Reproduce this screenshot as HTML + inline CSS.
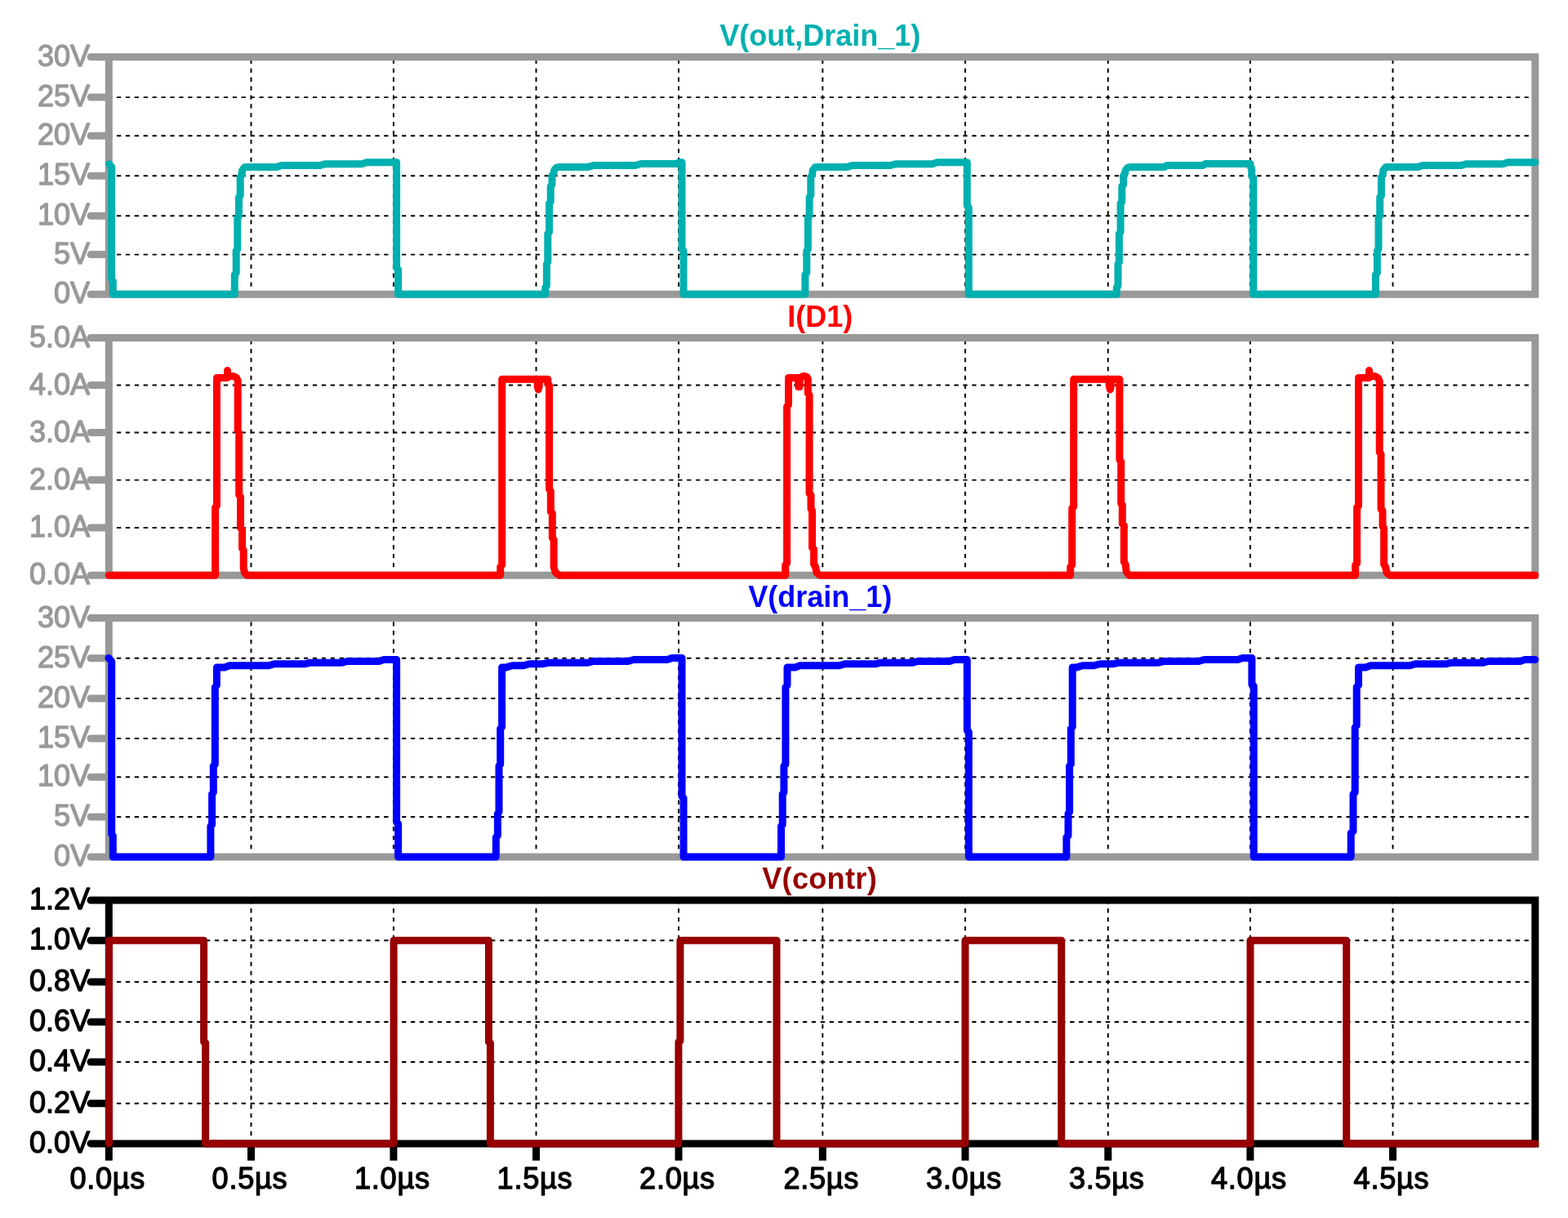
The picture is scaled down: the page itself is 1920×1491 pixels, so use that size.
<!DOCTYPE html>
<html lang="en">
<head>
<meta charset="utf-8">
<title>Waveforms</title>
<style>
html,body{margin:0;padding:0;background:#fff;}
body{width:1920px;height:1491px;overflow:hidden;}
svg{display:block;}
text{font-family:"Liberation Sans",sans-serif;font-size:36.1px;stroke-width:1.3px;stroke-linejoin:round;}
.t{font-weight:bold;text-anchor:middle;font-size:36px;}
.y{text-anchor:end;letter-spacing:0px;}
.x{text-anchor:start;}
.g{stroke:#000;stroke-width:1.95;stroke-dasharray:5.3 5.609;fill:none;}
.a{stroke-width:9.0;fill:none;stroke-linecap:round;stroke-linejoin:round;}
.w{stroke-width:9.0;fill:none;stroke-linecap:round;stroke-linejoin:round;}
</style>
</head>
<body>
<svg width="1920" height="1491" viewBox="0 0 1920 1491" role="img" aria-label="Waveform plot">
<rect width="1920" height="1491" fill="#fff"/>
<g>
<text class="t" x="1004.2" y="55.8" fill="#00b0b0">V(out,Drain_1)</text>
<line class="g" x1="142.9" y1="119.1" x2="1873" y2="119.1"/>
<line class="g" x1="142.9" y1="166.2" x2="1873" y2="166.2"/>
<line class="g" x1="142.9" y1="215.2" x2="1873" y2="215.2"/>
<line class="g" x1="142.9" y1="264.3" x2="1873" y2="264.3"/>
<line class="g" x1="142.9" y1="311.6" x2="1873" y2="311.6"/>
<line class="g" x1="307.5" y1="72.8" x2="307.5" y2="350.7"/>
<line class="g" x1="481.9" y1="72.8" x2="481.9" y2="350.7"/>
<line class="g" x1="656.5" y1="72.8" x2="656.5" y2="350.7"/>
<line class="g" x1="831" y1="72.8" x2="831" y2="350.7"/>
<line class="g" x1="1007.3" y1="72.8" x2="1007.3" y2="350.7"/>
<line class="g" x1="1181.9" y1="72.8" x2="1181.9" y2="350.7"/>
<line class="g" x1="1356.8" y1="72.8" x2="1356.8" y2="350.7"/>
<line class="g" x1="1530.9" y1="72.8" x2="1530.9" y2="350.7"/>
<line class="g" x1="1705.5" y1="72.8" x2="1705.5" y2="350.7"/>
<path class="a" style="stroke-linejoin:miter" stroke="#999999" d="M111,69.8 H1879.8 V360.2 H111 M133.3,69.8 V360.2"/>
<text class="y" x="110.1" y="81" fill="#999999" stroke="#999999">30V</text>
<line class="a" stroke="#999999" x1="111" y1="119.1" x2="133.3" y2="119.1"/>
<text class="y" x="110.1" y="130.2" fill="#999999" stroke="#999999">25V</text>
<line class="a" stroke="#999999" x1="111" y1="166.2" x2="133.3" y2="166.2"/>
<text class="y" x="110.1" y="177.3" fill="#999999" stroke="#999999">20V</text>
<line class="a" stroke="#999999" x1="111" y1="215.2" x2="133.3" y2="215.2"/>
<text class="y" x="110.1" y="226.3" fill="#999999" stroke="#999999">15V</text>
<line class="a" stroke="#999999" x1="111" y1="264.3" x2="133.3" y2="264.3"/>
<text class="y" x="110.1" y="275.4" fill="#999999" stroke="#999999">10V</text>
<line class="a" stroke="#999999" x1="111" y1="311.6" x2="133.3" y2="311.6"/>
<text class="y" x="110.1" y="322.8" fill="#999999" stroke="#999999">5V</text>
<text class="y" x="110.1" y="371.3" fill="#999999" stroke="#999999">0V</text>
<polyline class="w" stroke="#00b0b0" points="133.5,200.8 136.7,204.5 136.7,342 138.3,344 138.3,360.2 287.3,360.2 287.3,336 289.2,334 289.2,307 290.8,305 290.8,266.4 292.5,264.4 292.5,241.4 294.2,239.4 294.2,217 296,214 296.6,208.5 299.5,204.8 303,204.4 339,204.4 345,202.5 392,202.5 398,200.7 443,200.7 449,198.8 485.6,198.8 485.6,198.8 485.6,328 487.6,330 487.6,360.2 667.7,360.2 667.7,352 669.4,350 669.4,323 670.8,321 670.8,286 672.5,284 672.5,249 674.2,247 674.2,228 676,226 676,215 678,212 678.8,208 681.5,205.2 685,204.4 720,204.4 727,202.5 778,202.5 785,200.5 828,200.5 832,198.8 835,198.8 835,198.8 835,305 837,307 837,360.2 985.9,360.2 985.9,336 987.8,334 987.8,307 989.4,305 989.4,266.4 991.1,264.4 991.1,241.4 992.8,239.4 992.8,217 994.6,214 995.2,208.5 998.1,204.8 1001.6,204.4 1037.6,204.4 1043.6,202.5 1090.6,202.5 1096.6,200.7 1141.6,200.7 1147.6,198.8 1184.2,198.8 1184.2,198.8 1184.2,252 1186.2,254 1186.2,360.2 1367.3,360.2 1367.3,352 1369,350 1369,323 1370.4,321 1370.4,286 1372.1,284 1372.1,249 1373.8,247 1373.8,228 1375.6,226 1375.6,215 1377.6,212 1378.4,208 1381.1,205.2 1384.6,204.4 1425.7,204.5 1428.7,202.5 1473,202.5 1476,200.5 1531,200.5 1531,203.5 1532.7,206.5 1532.7,215.5 1534.8,218 1534.8,360.2 1684.5,360.2 1684.5,336 1686.4,334 1686.4,307 1688,305 1688,266.4 1689.7,264.4 1689.7,241.4 1691.4,239.4 1691.4,217 1693.2,214 1693.8,208.5 1696.7,204.8 1700.2,204.4 1736.2,204.4 1742.2,202.5 1789.2,202.5 1795.2,200.7 1840.2,200.7 1846.2,198.8 1879.8,198.8"/>
</g>
<g>
<text class="t" x="1004.2" y="400" fill="#ff0000">I(D1)</text>
<line class="g" x1="142.9" y1="471.5" x2="1873" y2="471.5"/>
<line class="g" x1="142.9" y1="529.5" x2="1873" y2="529.5"/>
<line class="g" x1="142.9" y1="587.6" x2="1873" y2="587.6"/>
<line class="g" x1="142.9" y1="645.9" x2="1873" y2="645.9"/>
<line class="g" x1="307.5" y1="416.2" x2="307.5" y2="694.7"/>
<line class="g" x1="481.9" y1="416.2" x2="481.9" y2="694.7"/>
<line class="g" x1="656.5" y1="416.2" x2="656.5" y2="694.7"/>
<line class="g" x1="831" y1="416.2" x2="831" y2="694.7"/>
<line class="g" x1="1007.3" y1="416.2" x2="1007.3" y2="694.7"/>
<line class="g" x1="1181.9" y1="416.2" x2="1181.9" y2="694.7"/>
<line class="g" x1="1356.8" y1="416.2" x2="1356.8" y2="694.7"/>
<line class="g" x1="1530.9" y1="416.2" x2="1530.9" y2="694.7"/>
<line class="g" x1="1705.5" y1="416.2" x2="1705.5" y2="694.7"/>
<path class="a" style="stroke-linejoin:miter" stroke="#999999" d="M111,413.5 H1879.8 V704.2 H111 M133.3,413.5 V704.2"/>
<text class="y" x="110.1" y="424.6" fill="#999999" stroke="#999999">5.0A</text>
<line class="a" stroke="#999999" x1="111" y1="471.5" x2="133.3" y2="471.5"/>
<text class="y" x="110.1" y="482.6" fill="#999999" stroke="#999999">4.0A</text>
<line class="a" stroke="#999999" x1="111" y1="529.5" x2="133.3" y2="529.5"/>
<text class="y" x="110.1" y="540.6" fill="#999999" stroke="#999999">3.0A</text>
<line class="a" stroke="#999999" x1="111" y1="587.6" x2="133.3" y2="587.6"/>
<text class="y" x="110.1" y="598.8" fill="#999999" stroke="#999999">2.0A</text>
<line class="a" stroke="#999999" x1="111" y1="645.9" x2="133.3" y2="645.9"/>
<text class="y" x="110.1" y="657" fill="#999999" stroke="#999999">1.0A</text>
<text class="y" x="110.1" y="715.4" fill="#999999" stroke="#999999">0.0A</text>
<polyline class="w" stroke="#ff0000" points="133.3,704.2 263.6,704.2 263.6,621 265.5,619 265.5,462.4 278.5,462.4 278.5,453.4 278.5,460.5 286,460.5 289.5,462.4 291.2,466 291.2,527.6 292.7,529.6 292.7,606 294.5,608 294.5,646.3 296.6,648.3 296.6,671.5 298.2,673.5 298.2,696 299.8,701.5 302.6,704.2 612.7,704.2 612.7,694 614.7,691.5 614.7,464.3 658.2,464.3 658.2,473 659.2,477 660.2,473 660.2,464.3 670.8,464.3 670.8,469.6 672.5,471.6 672.5,599 674.3,601 674.3,626.2 676.3,628.2 676.3,658.4 678.1,660.4 678.1,694 680,700.5 684.7,704.2 961.7,704.2 961.7,691.6 963.6,689.6 963.6,497.5 965.5,495.5 965.5,462.4 977.3,462.4 977.8,473.6 978.8,473.6 979.3,462.4 983.7,460.5 985.5,460.5 988.2,461.5 989.3,464 989.3,481.4 991.1,483.4 991,604 993,606 993,623 994.5,625 994.5,670.5 996.6,672.5 996.6,690.6 998.6,694 1000,701 1003.6,704.2 1310.7,704.2 1310.7,694 1312.7,691.5 1312.7,622.2 1314.7,620.2 1314.7,464.3 1358.4,464.3 1358.4,473 1359.4,477 1360.4,473 1360.4,464.3 1370.9,464.3 1370.9,562.9 1372.7,564.9 1372.7,616.2 1374.3,618.2 1374.3,641.3 1376.3,643.3 1376.3,687.6 1378,690.5 1379.3,700 1382.7,704.2 1659.6,704.2 1659.6,691.6 1661.6,689.6 1661.6,621.2 1663.5,619.2 1663.5,462.4 1676.5,462.4 1676.5,453.4 1676.5,460.5 1683.5,460.5 1687.3,462.4 1689.2,466.5 1689.2,553.8 1691,555.8 1691,623.2 1693,625.2 1693,644.4 1694.6,646.4 1694.6,690.6 1696.6,694 1698,701 1701.6,704.2 1879.8,704.2"/>
</g>
<g>
<text class="t" x="1004.2" y="743" fill="#0000ff">V(drain_1)</text>
<line class="g" x1="142.9" y1="805.8" x2="1873" y2="805.8"/>
<line class="g" x1="142.9" y1="855" x2="1873" y2="855"/>
<line class="g" x1="142.9" y1="904" x2="1873" y2="904"/>
<line class="g" x1="142.9" y1="951.3" x2="1873" y2="951.3"/>
<line class="g" x1="142.9" y1="1000" x2="1873" y2="1000"/>
<line class="g" x1="307.5" y1="761.2" x2="307.5" y2="1039.5"/>
<line class="g" x1="481.9" y1="761.2" x2="481.9" y2="1039.5"/>
<line class="g" x1="656.5" y1="761.2" x2="656.5" y2="1039.5"/>
<line class="g" x1="831" y1="761.2" x2="831" y2="1039.5"/>
<line class="g" x1="1007.3" y1="761.2" x2="1007.3" y2="1039.5"/>
<line class="g" x1="1181.9" y1="761.2" x2="1181.9" y2="1039.5"/>
<line class="g" x1="1356.8" y1="761.2" x2="1356.8" y2="1039.5"/>
<line class="g" x1="1530.9" y1="761.2" x2="1530.9" y2="1039.5"/>
<line class="g" x1="1705.5" y1="761.2" x2="1705.5" y2="1039.5"/>
<path class="a" style="stroke-linejoin:miter" stroke="#999999" d="M111,756.6 H1879.8 V1049 H111 M133.3,756.6 V1049"/>
<text class="y" x="110.1" y="767.8" fill="#999999" stroke="#999999">30V</text>
<line class="a" stroke="#999999" x1="111" y1="805.8" x2="133.3" y2="805.8"/>
<text class="y" x="110.1" y="816.9" fill="#999999" stroke="#999999">25V</text>
<line class="a" stroke="#999999" x1="111" y1="855" x2="133.3" y2="855"/>
<text class="y" x="110.1" y="866.1" fill="#999999" stroke="#999999">20V</text>
<line class="a" stroke="#999999" x1="111" y1="904" x2="133.3" y2="904"/>
<text class="y" x="110.1" y="915.1" fill="#999999" stroke="#999999">15V</text>
<line class="a" stroke="#999999" x1="111" y1="951.3" x2="133.3" y2="951.3"/>
<text class="y" x="110.1" y="962.4" fill="#999999" stroke="#999999">10V</text>
<line class="a" stroke="#999999" x1="111" y1="1000" x2="133.3" y2="1000"/>
<text class="y" x="110.1" y="1011.1" fill="#999999" stroke="#999999">5V</text>
<text class="y" x="110.1" y="1060.2" fill="#999999" stroke="#999999">0V</text>
<polyline class="w" stroke="#0000ff" points="132.9,805.4 136.7,809.5 136.7,1021 138.3,1023 138.3,1049 257.9,1049 257.9,1011.5 259.6,1009.5 259.6,972 261.3,970 261.3,937.7 263.3,935.7 263.3,841 265.4,838.8 265.4,817 275,816.9 281,814.8 329,814.8 336,812.7 374,812.7 380,811.2 419,811.2 425,809.5 464,809.5 470,807.5 485.6,807.5 485.6,807.5 485.6,1006.5 487.6,1008.5 487.6,1049 607.3,1049 607.3,1025 609.4,1023 609.4,996 611,994 611,937.7 612.7,935.7 612.7,892 614.6,889.8 614.6,817 620,816.9 627,814.8 641,814.8 648,812.7 665,812.7 672,811.2 720,811.2 727,809.5 769,809.5 776,807.5 817,807.5 823,805.4 835,805.4 835,805.4 835,975 837,977 837,1049 956.5,1049 956.5,1011.5 958.2,1009.5 958.2,972 959.9,970 959.9,937.7 961.9,935.7 961.9,841 964,838.8 964,817 973.6,816.9 979.6,814.8 1027.6,814.8 1034.6,812.7 1072.6,812.7 1078.6,811.2 1117.6,811.2 1123.6,809.5 1162.6,809.5 1168.6,807.5 1184.2,807.5 1184.2,807.5 1184.2,894 1186.2,896 1186.2,1049 1305.9,1049 1305.9,1025 1308,1023 1308,996 1309.6,994 1309.6,937.7 1311.3,935.7 1311.3,892 1313.2,889.8 1313.2,817 1318.6,816.9 1325.6,814.8 1339.6,814.8 1346.6,812.7 1363.6,812.7 1370.6,811.2 1418.6,811.2 1425.6,809.5 1467.6,809.5 1474.6,807.5 1515.6,807.5 1521.6,805.4 1532.9,805.4 1532.9,805.4 1532.9,838 1535.2,840 1535.2,1049 1654.2,1049 1654.2,1019.7 1657,1017.7 1657,972 1659.2,970 1659.2,890.4 1661.2,888.4 1661.2,841 1663.5,838.8 1663.5,817 1672.2,816.9 1678.2,814.8 1726.2,814.8 1733.2,812.7 1771.2,812.7 1777.2,811.2 1816.2,811.2 1822.2,809.5 1861.2,809.5 1867.2,807.5 1879.8,807.5"/>
</g>
<g>
<text class="t" x="1003.6" y="1088" fill="#960000" style="letter-spacing:0.36px">V(contr)</text>
<line class="g" x1="142.9" y1="1151.2" x2="1873" y2="1151.2"/>
<line class="g" x1="142.9" y1="1201.9" x2="1873" y2="1201.9"/>
<line class="g" x1="142.9" y1="1251" x2="1873" y2="1251"/>
<line class="g" x1="142.9" y1="1300" x2="1873" y2="1300"/>
<line class="g" x1="142.9" y1="1350.8" x2="1873" y2="1350.8"/>
<line class="g" x1="307.5" y1="1101.2" x2="307.5" y2="1390.4"/>
<line class="g" x1="481.9" y1="1101.2" x2="481.9" y2="1390.4"/>
<line class="g" x1="656.5" y1="1101.2" x2="656.5" y2="1390.4"/>
<line class="g" x1="831" y1="1101.2" x2="831" y2="1390.4"/>
<line class="g" x1="1007.3" y1="1101.2" x2="1007.3" y2="1390.4"/>
<line class="g" x1="1181.9" y1="1101.2" x2="1181.9" y2="1390.4"/>
<line class="g" x1="1356.8" y1="1101.2" x2="1356.8" y2="1390.4"/>
<line class="g" x1="1530.9" y1="1101.2" x2="1530.9" y2="1390.4"/>
<line class="g" x1="1705.5" y1="1101.2" x2="1705.5" y2="1390.4"/>
<path class="a" style="stroke-linejoin:miter" stroke="#000000" d="M111,1102 H1879.8 V1399.9 H111 M133.3,1102 V1399.9"/>
<text class="y" x="110.1" y="1113.2" fill="#000000" stroke="#000000">1.2V</text>
<line class="a" stroke="#000000" x1="111" y1="1151.2" x2="133.3" y2="1151.2"/>
<text class="y" x="110.1" y="1162.4" fill="#000000" stroke="#000000">1.0V</text>
<line class="a" stroke="#000000" x1="111" y1="1201.9" x2="133.3" y2="1201.9"/>
<text class="y" x="110.1" y="1213.1" fill="#000000" stroke="#000000">0.8V</text>
<line class="a" stroke="#000000" x1="111" y1="1251" x2="133.3" y2="1251"/>
<text class="y" x="110.1" y="1262.2" fill="#000000" stroke="#000000">0.6V</text>
<line class="a" stroke="#000000" x1="111" y1="1300" x2="133.3" y2="1300"/>
<text class="y" x="110.1" y="1311.2" fill="#000000" stroke="#000000">0.4V</text>
<line class="a" stroke="#000000" x1="111" y1="1350.8" x2="133.3" y2="1350.8"/>
<text class="y" x="110.1" y="1362" fill="#000000" stroke="#000000">0.2V</text>
<text class="y" x="110.1" y="1411.1" fill="#000000" stroke="#000000">0.0V</text>
<line stroke="#000" stroke-width="9.0" x1="133.3" y1="1399.9" x2="133.3" y2="1420.7"/>
<text class="x" x="85.4" y="1454.9" textLength="92" fill="#000" stroke="#000">0.0µs</text>
<line stroke="#000" stroke-width="9.0" x1="307.5" y1="1399.9" x2="307.5" y2="1420.7"/>
<text class="x" x="259.6" y="1454.9" textLength="92" fill="#000" stroke="#000">0.5µs</text>
<line stroke="#000" stroke-width="9.0" x1="481.9" y1="1399.9" x2="481.9" y2="1420.7"/>
<text class="x" x="434" y="1454.9" textLength="92" fill="#000" stroke="#000">1.0µs</text>
<line stroke="#000" stroke-width="9.0" x1="656.5" y1="1399.9" x2="656.5" y2="1420.7"/>
<text class="x" x="608.6" y="1454.9" textLength="92" fill="#000" stroke="#000">1.5µs</text>
<line stroke="#000" stroke-width="9.0" x1="831" y1="1399.9" x2="831" y2="1420.7"/>
<text class="x" x="783.1" y="1454.9" textLength="92" fill="#000" stroke="#000">2.0µs</text>
<line stroke="#000" stroke-width="9.0" x1="1007.3" y1="1399.9" x2="1007.3" y2="1420.7"/>
<text class="x" x="959.4" y="1454.9" textLength="92" fill="#000" stroke="#000">2.5µs</text>
<line stroke="#000" stroke-width="9.0" x1="1181.9" y1="1399.9" x2="1181.9" y2="1420.7"/>
<text class="x" x="1134" y="1454.9" textLength="92" fill="#000" stroke="#000">3.0µs</text>
<line stroke="#000" stroke-width="9.0" x1="1356.8" y1="1399.9" x2="1356.8" y2="1420.7"/>
<text class="x" x="1308.9" y="1454.9" textLength="92" fill="#000" stroke="#000">3.5µs</text>
<line stroke="#000" stroke-width="9.0" x1="1530.9" y1="1399.9" x2="1530.9" y2="1420.7"/>
<text class="x" x="1483" y="1454.9" textLength="92" fill="#000" stroke="#000">4.0µs</text>
<line stroke="#000" stroke-width="9.0" x1="1705.5" y1="1399.9" x2="1705.5" y2="1420.7"/>
<text class="x" x="1657.6" y="1454.9" textLength="92" fill="#000" stroke="#000">4.5µs</text>
<polyline class="w" stroke="#960000" points="133.5,1399.9 133.5,1151.2 249.6,1151.2 249.6,1275.5 251.6,1276.5 251.6,1399.9 482.1,1399.9 482.1,1151.2 598.4,1151.2 598.4,1275.5 600.4,1276.5 600.4,1399.9 830.9,1399.9 830.9,1275.2 832.9,1274.2 832.9,1151.2 951,1151.2 951,1399.9 1181.9,1399.9 1181.9,1151.2 1299.7,1151.2 1299.7,1399.9 1531,1399.9 1531,1151.2 1648.7,1151.2 1648.7,1399.9 1879.8,1399.9"/>
</g>
</svg>
</body>
</html>
